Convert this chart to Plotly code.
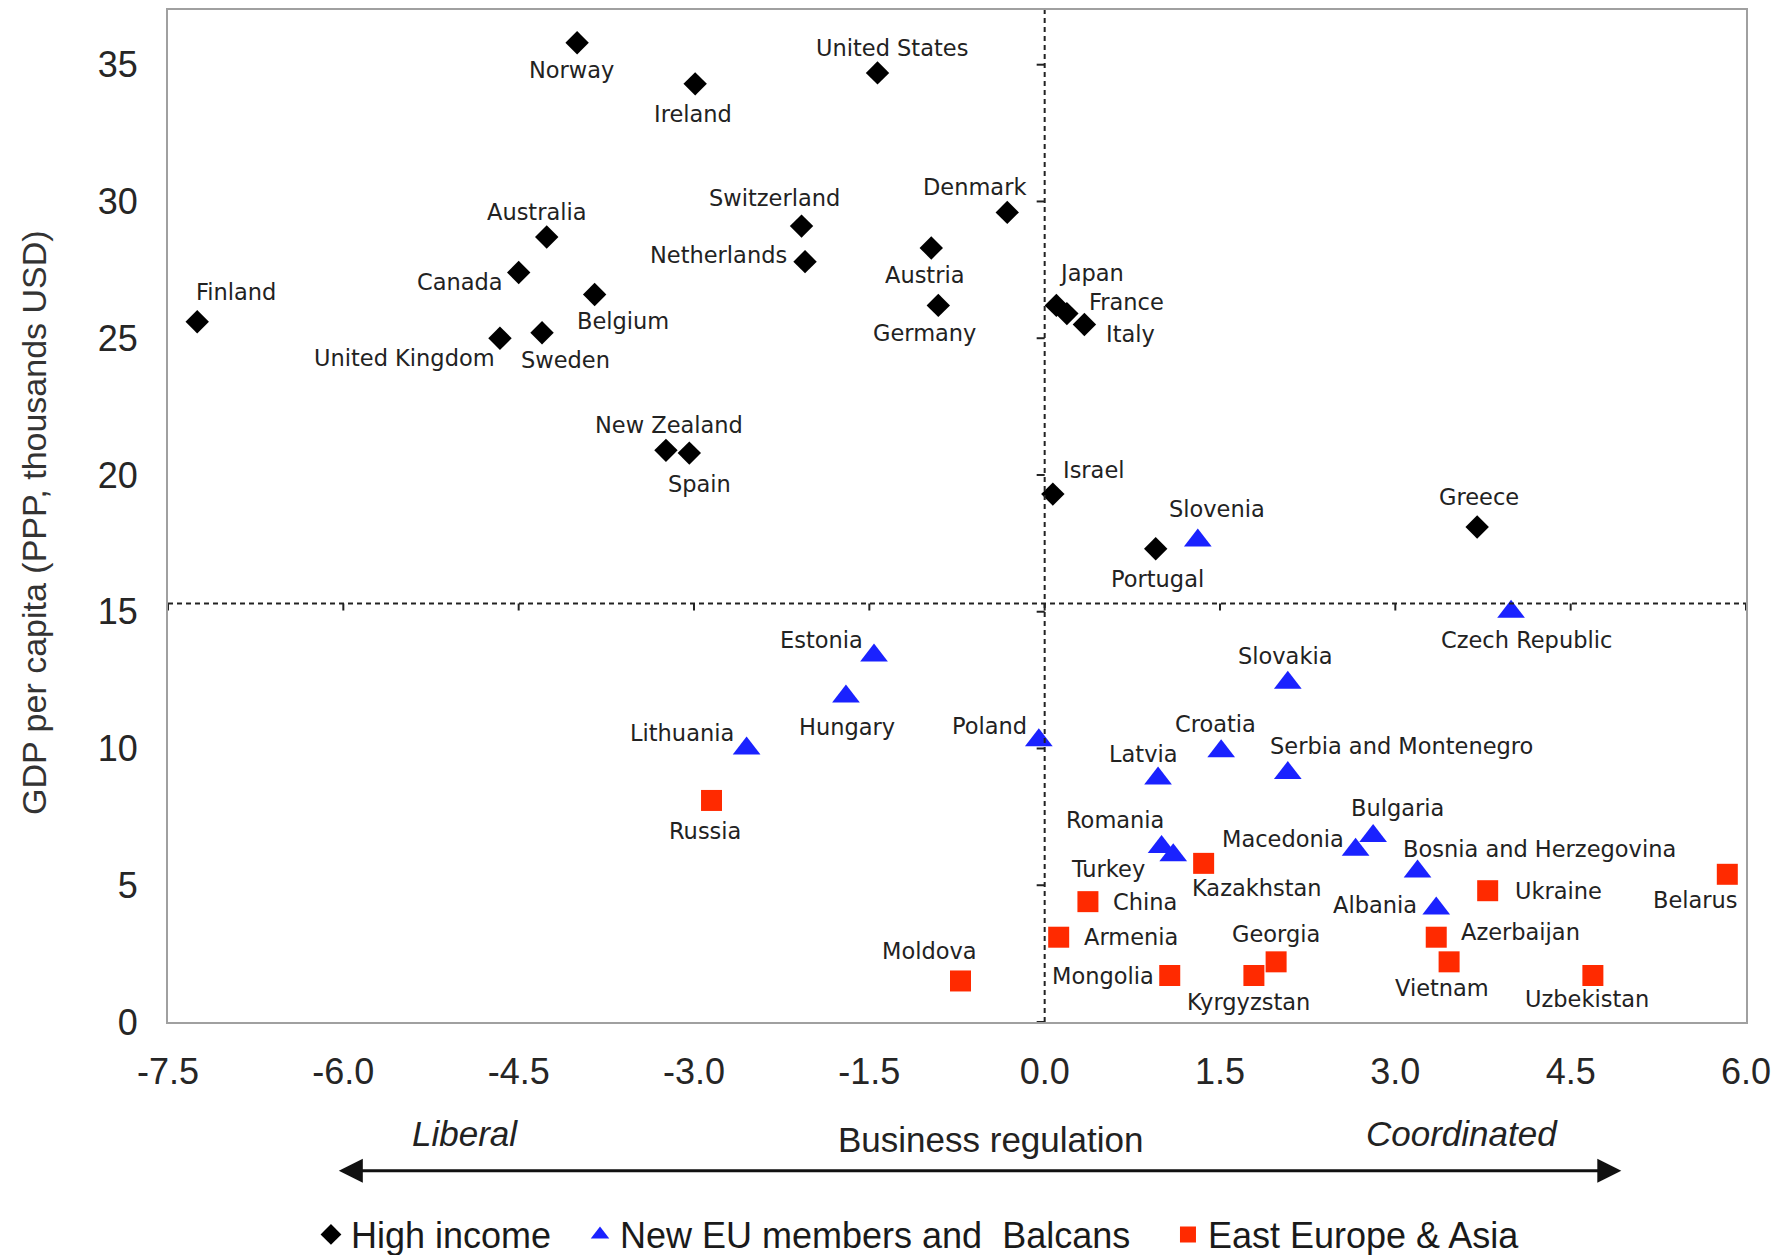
import plotly.graph_objects as go

# ---------------- data ----------------
high_names = ["Norway", "United States", "Ireland", "Denmark", "Switzerland", "Australia",
              "Austria", "Netherlands", "Canada", "Belgium", "Germany", "Japan", "France",
              "Italy", "Finland", "Sweden", "United Kingdom", "New Zealand", "Spain",
              "Israel", "Portugal", "Greece"]
high_x = [-4.00, -1.43, -2.99, -0.32, -2.08, -4.26, -0.97, -2.05, -4.50, -3.85, -0.91,
          0.10, 0.19, 0.34, -7.25, -4.30, -4.66, -3.24, -3.04, 0.07, 0.95, 3.70]
high_y = [35.8, 34.7, 34.3, 29.6, 29.1, 28.7, 28.3, 27.8, 27.4, 26.6, 26.2,
          26.2, 25.9, 25.5, 25.6, 25.2, 25.0, 20.9, 20.8, 19.3, 17.3, 18.1]

neweu_names = ["Slovenia", "Czech Republic", "Estonia", "Slovakia", "Hungary", "Lithuania",
               "Poland", "Croatia", "Latvia", "Serbia and Montenegro", "Romania", "Turkey",
               "Bulgaria", "Macedonia", "Bosnia and Herzegovina", "Albania"]
neweu_x = [1.31, 3.99, -1.46, 2.08, -1.70, -2.55, -0.05, 1.51, 0.97, 2.08, 1.00, 1.10,
           2.81, 2.66, 3.19, 3.35]
neweu_y = [17.6, 15.0, 13.4, 12.4, 11.9, 10.0, 10.3, 9.9, 8.9, 9.1, 6.4, 6.1,
           6.8, 6.3, 5.5, 4.15]

east_names = ["Russia", "Kazakhstan", "Belarus", "Ukraine", "China", "Armenia", "Azerbaijan",
              "Georgia", "Vietnam", "Mongolia", "Kyrgyzstan", "Uzbekistan", "Moldova"]
east_x = [-2.85, 1.36, 5.84, 3.79, 0.37, 0.12, 3.35, 1.98, 3.46, 1.07, 1.79, 4.69, -0.72]
east_y = [8.1, 5.8, 5.4, 4.8, 4.4, 3.1, 3.1, 2.2, 2.2, 1.7, 1.7, 1.7, 1.5]

series_names = ["High income", "New EU members and  Balcans", "East Europe & Asia"]

x_ticks = [-7.5, -6.0, -4.5, -3.0, -1.5, 0.0, 1.5, 3.0, 4.5, 6.0]
x_ticktext = ["-7.5", "-6.0", "-4.5", "-3.0", "-1.5", "0.0", "1.5", "3.0", "4.5", "6.0"]
y_ticks = [0, 5, 10, 15, 20, 25, 30, 35]
x_split = 0.0
y_split = 15.3

# ---------------- label placement (style only: anchor, x px shift, y px shift up) ----------------
label_pos = {
    "Norway": ("center", -6, -27), "United States": ("center", 14, 25),
    "Ireland": ("center", -2, -30), "Switzerland": ("center", -27, 28),
    "Denmark": ("center", -33, 25), "Australia": ("center", -10, 25),
    "Netherlands": ("right", -16, 7), "Austria": ("center", -6, -27),
    "Canada": ("right", -14, -9), "Belgium": ("center", 28, -27),
    "Germany": ("center", -14, -28), "Finland": ("center", 39, 30),
    "Japan": ("center", 35, 32), "France": ("left", 20, 12), "Italy": ("left", 20, -9),
    "United Kingdom": ("right", -3, -20), "Sweden": ("center", 23, -27),
    "New Zealand": ("center", 3, 25), "Spain": ("center", 10, -31),
    "Israel": ("left", 8, 24), "Portugal": ("center", 2, -30), "Greece": ("center", 2, 30),
    "Slovenia": ("center", 19, 32), "Czech Republic": ("center", 15, -28),
    "Estonia": ("right", -9, 15), "Slovakia": ("center", -3, 27),
    "Hungary": ("center", 1, -30), "Lithuania": ("right", -11, 15),
    "Poland": ("right", -10, 14), "Croatia": ("center", -6, 27),
    "Latvia": ("center", -15, 25), "Serbia and Montenegro": ("left", -20, 27),
    "Romania": ("center", -47, 27), "Turkey": ("right", -26, -14),
    "Bulgaria": ("center", 24, 28), "Macedonia": ("right", -10, 11),
    "Bosnia and Herzegovina": ("left", -17, 23), "Albania": ("right", -17, 3),
    "Russia": ("center", -7, -31), "Kazakhstan": ("center", 53, -25),
    "Belarus": ("center", -32, -26), "Ukraine": ("left", 25, 0),
    "China": ("left", 23, 0), "Armenia": ("left", 23, 0), "Azerbaijan": ("left", 23, 5),
    "Georgia": ("center", 0, 28), "Vietnam": ("center", -7, -26),
    "Mongolia": ("right", -14, 0), "Kyrgyzstan": ("center", -5, -26),
    "Uzbekistan": ("center", -6, -23), "Moldova": ("center", -31, 30),
}

FONT = "Liberation Sans, Arial, sans-serif"
LABEL_FONT = "DejaVu Sans, Verdana, sans-serif"
TXT = "#222222"

fig = go.Figure()
fig.add_trace(go.Scatter(x=high_x, y=high_y, mode="markers", name=series_names[0],
                         text=high_names, cliponaxis=False, legend="legend",
                         marker=dict(symbol="diamond", size=18, color="#000000", line=dict(width=0))))
fig.add_trace(go.Scatter(x=neweu_x, y=neweu_y, mode="markers", name=series_names[1],
                         text=neweu_names, cliponaxis=False, legend="legend2",
                         marker=dict(symbol="triangle-up", size=24, color="#1a22ff", line=dict(width=0))))
fig.add_trace(go.Scatter(x=east_x, y=east_y, mode="markers", name=series_names[2],
                         text=east_names, cliponaxis=False, legend="legend3",
                         marker=dict(symbol="square", size=21, color="#ff2a00", line=dict(width=0))))

annotations = []
for names, xs, ys in [(high_names, high_x, high_y), (neweu_names, neweu_x, neweu_y),
                      (east_names, east_x, east_y)]:
    for n, xv, yv in zip(names, xs, ys):
        anc, dx, dy = label_pos[n]
        annotations.append(dict(x=xv, y=yv, xref="x", yref="y", text=n, showarrow=False,
                                xanchor=anc, yanchor="middle", xshift=dx, yshift=dy,
                                font=dict(family=LABEL_FONT, size=22.5, color=TXT)))

# axis titles / direction labels
annotations += [
    dict(x=-0.085, y=0.494, xref="paper", yref="paper", text="GDP per capita (PPP, thousands USD)",
         textangle=-90, showarrow=False, xanchor="center", yanchor="middle",
         font=dict(family=FONT, size=34, color="#333333")),
    dict(x=0.5215, y=-0.1165, xref="paper", yref="paper", text="Business regulation",
         showarrow=False, xanchor="center", yanchor="middle",
         font=dict(family=FONT, size=35, color="#222222")),
    dict(x=0.188, y=-0.110, xref="paper", yref="paper", text="<i>Liberal</i>",
         showarrow=False, xanchor="center", yanchor="middle",
         font=dict(family=FONT, size=35, color="#222222")),
    dict(x=0.820, y=-0.110, xref="paper", yref="paper", text="<i>Coordinated</i>",
         showarrow=False, xanchor="center", yanchor="middle",
         font=dict(family=FONT, size=35, color="#222222")),
    dict(x=0.921, y=-0.147, xref="paper", yref="paper", text="", showarrow=True,
         axref="pixel", ayref="pixel", ax=-1284, ay=0, arrowside="end+start",
         arrowhead=2, arrowsize=1.6, arrowwidth=3, arrowcolor="#111111", standoff=0,
         startstandoff=0),
]

shapes = [
    dict(type="line", xref="x", yref="y", x0=x_split, x1=x_split, y0=0, y1=37,
         line=dict(color="#222222", width=2, dash="5px,4px")),
    dict(type="line", xref="x", yref="y", x0=-7.5, x1=6.0, y0=y_split, y1=y_split,
         line=dict(color="#222222", width=2, dash="5px,4px")),
]
for xt in x_ticks:
    shapes.append(dict(type="line", xref="x", yref="y", ysizemode="pixel", yanchor=y_split,
                       x0=xt, x1=xt, y0=0, y1=-7, line=dict(color="#222222", width=2)))
for yt in y_ticks:
    shapes.append(dict(type="line", xref="x", yref="y", xsizemode="pixel", xanchor=x_split,
                       x0=-8, x1=0, y0=yt, y1=yt, line=dict(color="#222222", width=2)))

leg_common = dict(orientation="h", y=-0.21, yanchor="middle", xanchor="left",
                  font=dict(family=FONT, size=36, color="#1a1a1a"), bgcolor="rgba(0,0,0,0)",
                  itemsizing="trace", borderwidth=0)

fig.update_layout(
    width=1772, height=1290,
    margin=dict(l=160, r=34, t=2, b=276, autoexpand=False),
    paper_bgcolor="white", plot_bgcolor="white",
    font=dict(family=FONT, color=TXT),
    showlegend=True,
    legend=dict(x=0.0906, **leg_common),
    legend2=dict(x=0.2611, **leg_common),
    legend3=dict(x=0.6337, **leg_common),
    annotations=annotations,
    shapes=shapes,
)
fig.update_xaxes(range=[-7.5, 6.0], tickvals=x_ticks, ticktext=x_ticktext, showgrid=False,
                 zeroline=False, ticks="", showline=True, mirror=True, linecolor="#a0a0a0",
                 linewidth=2, ticklabelstandoff=17,
                 tickfont=dict(family=FONT, size=36, color="#262626"))
fig.update_yaxes(range=[0, 37], tickvals=y_ticks, showgrid=False, zeroline=False, ticks="",
                 showline=True, mirror=True, linecolor="#a0a0a0", linewidth=2,
                 ticklabelstandoff=21,
                 tickfont=dict(family=FONT, size=36, color="#262626"))

fig.write_html("out.html")
